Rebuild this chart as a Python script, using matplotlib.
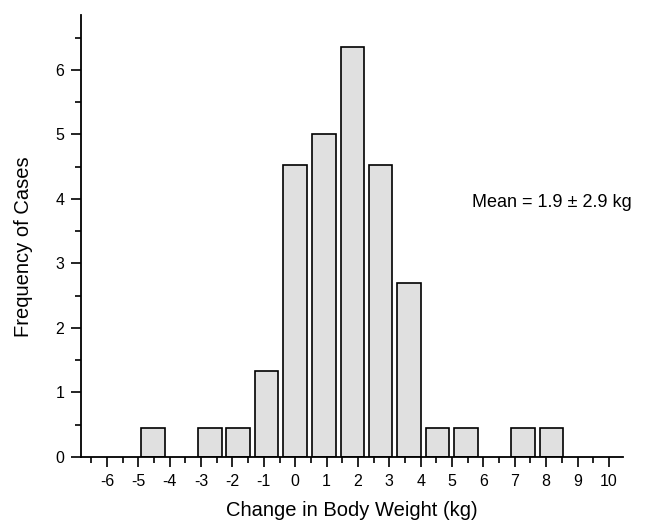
import matplotlib
matplotlib.use("Agg")
import matplotlib.pyplot as plt
import numpy as np

plt.rcParams['font.family'] = ['Liberation Sans', 'DejaVu Sans']
plt.rcParams['axes.unicode_minus'] = False

# Bar centres (x, in kg axis units, as drawn) and heights (frequency)
bar_centers = [-4.54, -2.72, -1.82, -0.91, 0.0, 0.91, 1.82, 2.72, 3.63, 4.54, 5.45, 7.26, 8.17]
bar_heights = [0.45, 0.45, 0.45, 1.33, 4.53, 5.0, 6.36, 4.53, 2.7, 0.45, 0.45, 0.45, 0.45]
x_ticks = [-6, -5, -4, -3, -2, -1, 0, 1, 2, 3, 4, 5, 6, 7, 8, 9, 10]
y_ticks = [0, 1, 2, 3, 4, 5, 6]
annotation = "Mean = 1.9 \u00b1 2.9 kg"

fig = plt.figure(figsize=(6.5, 5.22), dpi=100)
ax = fig.add_axes([81/650, 1 - 457/522, (623-81)/650, (457-15)/522])

ax.bar(bar_centers, bar_heights, width=0.75, color='#e0e0e0',
       edgecolor='black', linewidth=1.2, zorder=2)

ax.set_xlim(-6.83, 10.45)
ax.set_ylim(0, 6.85)
ax.set_xticks(x_ticks)
ax.set_xticks(np.arange(-6.5, 10.01, 0.5), minor=True)
ax.set_yticks(y_ticks)
ax.set_yticks(np.arange(0.5, 6.9, 1.0), minor=True)

for s in ['top', 'right']:
    ax.spines[s].set_visible(False)
for s in ['left', 'bottom']:
    ax.spines[s].set_linewidth(1.3)

ax.tick_params(axis='both', which='major', direction='out', length=7, width=1.2,
               labelsize=11.5, colors='black')
ax.tick_params(axis='both', which='minor', direction='out', length=4, width=1.2)
ax.tick_params(axis='x', which='major', pad=5)
ax.tick_params(axis='y', which='major', pad=5)

ax.set_xlabel("Change in Body Weight (kg)", fontsize=14.5, labelpad=9)
ax.set_ylabel("Frequency of Cases", fontsize=14.5)
ax.yaxis.set_label_coords(-0.088, 0.475)

ax.text(5.62, 3.94, annotation, fontsize=13, va='center', ha='left')

fig.savefig("out.png", dpi=100)
